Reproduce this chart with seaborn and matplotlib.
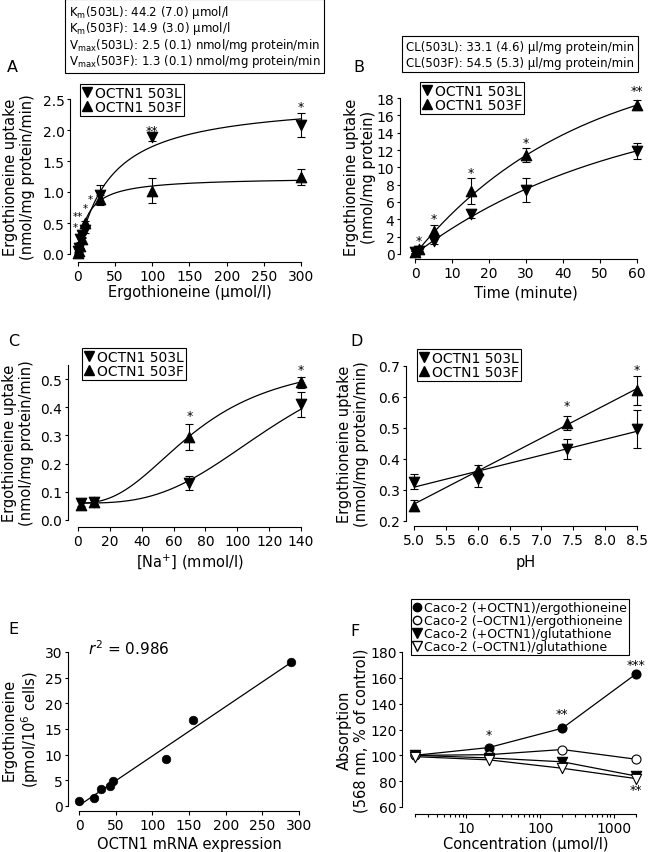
import numpy as np
import matplotlib
matplotlib.use("Agg")
import matplotlib.pyplot as plt
from matplotlib.lines import Line2D
import seaborn as sns

# ---------------- data ----------------
# Panel A: concentration dependence
a_conc = [0, 1, 2.5, 5, 10, 30, 100, 300]
a_503L = [0.05, 0.10, 0.25, 0.30, 0.38, 0.95, 1.88, 2.08]
a_503L_err = [0.03, 0.03, 0.05, 0.04, 0.04, 0.16, 0.05, 0.20]
a_503F = [0.02, 0.05, 0.13, 0.24, 0.50, 0.88, 1.02, 1.24]
a_503F_err = [0.02, 0.02, 0.03, 0.04, 0.04, 0.07, 0.20, 0.13]
a_km = [44.2, 13.0]      # fitted curves (503L, 503F)
a_vmax = [2.5, 1.24]
a_star_x = [300, 100]
a_star_y = [2.38, 2.0]
a_star_t = ["*", "**"]
a_lowstar_x = [-4, 0.5, 10, 17]
a_lowstar_y = [0.43, 0.61, 0.74, 0.88]
a_lowstar_t = ["*", "**", "*", "*"]

# Panel B: time course
b_time = [0, 1, 5, 15, 30, 60]
b_503L = [0.2, 0.4, 1.5, 4.6, 7.4, 11.9]
b_503L_err = [0.1, 0.15, 0.3, 0.5, 1.4, 0.9]
b_503F = [0.2, 0.6, 2.6, 7.3, 11.4, 17.2]
b_503F_err = [0.1, 0.3, 0.8, 1.5, 0.8, 0.6]
b_fit_a = [18.16, 23.2]   # saturation fits (503L, 503F)
b_fit_k = [0.01776, 0.0225]
b_star_x = [1, 5, 15, 30, 60]
b_star_y = [1.5, 4.05, 9.46, 12.9, 18.9]
b_star_t = ["*", "*", "*", "*", "**"]

# Panel C: Na+ dependence
c_na = [2, 10, 70, 140]
c_503L = [0.060, 0.063, 0.132, 0.41]
c_503L_err = [0.012, 0.008, 0.025, 0.045]
c_503F = [0.055, 0.065, 0.295, 0.488]
c_503F_err = [0.012, 0.008, 0.047, 0.02]
c_base = [0.06, 0.06]     # Hill fits (503L, 503F)
c_vmax = [0.6, 0.52]
c_k = [130, 75]
c_n = [3.0, 2.5]
c_star_x = [70, 140]
c_star_y = [0.37, 0.535]

# Panel D: pH dependence
d_ph = [5.0, 6.0, 7.4, 8.5]
d_503L = [0.327, 0.336, 0.432, 0.497]
d_503L_err = [0.025, 0.025, 0.032, 0.062]
d_503F = [0.25, 0.365, 0.516, 0.622]
d_503F_err = [0.017, 0.017, 0.022, 0.047]
d_star_x = [7.4, 8.5]
d_star_y = [0.571, 0.689]

# Panel E: correlation
e_mrna = [0, 21, 30, 42, 47, 119, 155, 289]
e_ergo = [1.0, 1.5, 3.3, 3.9, 4.9, 9.1, 16.8, 28.0]

# Panel F: cytoprotection
f_conc = [2, 20, 200, 2000]
f_pos_ergo = [100, 106, 121, 163]
f_neg_ergo = [100, 100.5, 104.5, 97]
f_pos_glut = [100, 98, 95, 84]
f_neg_glut = [99, 96.5, 90, 82]
f_pos_ergo_err = [1.0, 1.5, 2.5, 1.5]
f_star_x = [20, 200, 2000, 2000]
f_star_y = [116, 132, 170, 73.5]
f_star_t = ["*", "**", "***", "**"]

# ---------------- style ----------------
sns.set_style("ticks")
plt.rcParams.update({
    "font.family": ["DejaVu Sans"],
    "font.size": 10,
    "axes.linewidth": 0.8,
    "axes.edgecolor": "black",
    "xtick.major.width": 0.8, "ytick.major.width": 0.8,
    "xtick.minor.width": 0.8,
    "xtick.major.size": 2.8, "ytick.major.size": 2.5,
    "xtick.minor.size": 2.2,
    "xtick.major.pad": 2.0, "ytick.major.pad": 1.5,
    "xtick.color": "black", "ytick.color": "black",
    "xtick.labelsize": 10, "ytick.labelsize": 10,
    "axes.labelsize": 10.5,
    "text.color": "black", "axes.labelcolor": "black",
    "mathtext.fontset": "dejavusans",
})

W, H = 648, 853
fig = plt.figure(figsize=(W / 100, H / 100), dpi=100)


def px_axes(x0, x1, ytop, ybot):
    return fig.add_axes([x0 / W, 1 - ybot / H, (x1 - x0) / W, (ybot - ytop) / H])


def style(ax, left_off, bottom_off):
    sns.despine(ax=ax)
    ax.spines["left"].set_position(("outward", left_off * 0.72))
    ax.spines["bottom"].set_position(("outward", bottom_off * 0.72))
    ax.tick_params(direction="out")


def points(ax, x, y, err, marker, filled=True, ms=8):
    ax.errorbar(x, y, yerr=err, fmt="none", ecolor="black", elinewidth=0.8,
                capsize=3, capthick=0.8, zorder=2, clip_on=False)
    sns.scatterplot(x=x, y=y, marker=marker, s=ms ** 2 * 0.9,
                    color="black" if filled else "white", edgecolor="black",
                    linewidth=0.8, ax=ax, zorder=3, clip_on=False, legend=False)


def stars(ax, xs, ys, ts, size=9):
    for x, y, t in zip(xs, ys, ts):
        ax.text(x, y, t, ha="center", va="center", fontsize=size, clip_on=False)


def legend_tri(ax, xpx, ypx):
    handles = [Line2D([0], [0], marker="v", ls="none", color="black", ms=7.5, label="OCTN1 503L"),
               Line2D([0], [0], marker="^", ls="none", color="black", ms=7.5, label="OCTN1 503F")]
    leg = ax.legend(handles=handles, loc="upper left", bbox_to_anchor=(xpx / W, 1 - ypx / H),
                    bbox_transform=fig.transFigure, borderaxespad=0, fontsize=10,
                    frameon=True, fancybox=False, edgecolor="black", framealpha=1,
                    handlelength=0.7, handletextpad=0.25, borderpad=0.15, labelspacing=0.0)
    leg.get_frame().set_linewidth(0.8)
    return leg


def ylabel(ax, text, right_px, ax_left_px, ax_width_px):
    ax.set_ylabel(text, linespacing=1.15)
    ax.yaxis.set_label_coords((right_px - ax_left_px) / ax_width_px, 0.5)


def xlabel(ax, text, center_px, ax_bottom_px, ax_height_px):
    ax.set_xlabel(text)
    ax.xaxis.set_label_coords(0.5, -(center_px - ax_bottom_px) / ax_height_px)
    ax.xaxis.label.set_va("center")


# ---------------- Panel A ----------------
axA = px_axes(78, 301, 100, 255)
xs = np.linspace(0, 300, 400)
for km, vm in zip(a_km, a_vmax):
    sns.lineplot(x=xs, y=vm * xs / (km + xs), color="black", lw=0.9, ax=axA, zorder=1)
points(axA, a_conc, a_503L, a_503L_err, "v")
points(axA, a_conc, a_503F, a_503F_err, "^")
axA.set_xlim(0, 300)
axA.set_ylim(0, 2.5)
axA.set_xticks(range(0, 301, 50))
axA.set_yticks(np.arange(0, 2.51, 0.5))
axA.set_yticklabels([f"{v:.1f}" for v in np.arange(0, 2.51, 0.5)])
style(axA, 8, 8)
stars(axA, a_star_x, a_star_y, a_star_t)
stars(axA, a_lowstar_x, a_lowstar_y, a_lowstar_t, size=7.5)
ylabel(axA, "Ergothioneine uptake\n(nmol/mg protein/min)", 35, 78, 223)
xlabel(axA, "Ergothioneine (µmol/l)", 293, 255, 155)
legend_tri(axA, 80, 85)

# ---------------- Panel B ----------------
axB = px_axes(415, 637, 99, 255)
ts = np.linspace(0, 60, 300)
for a, k in zip(b_fit_a, b_fit_k):
    sns.lineplot(x=ts, y=a * (1 - np.exp(-k * ts)), color="black", lw=0.9, ax=axB, zorder=1)
points(axB, b_time, b_503L, b_503L_err, "v")
points(axB, b_time, b_503F, b_503F_err, "^")
axB.set_xlim(0, 60)
axB.set_ylim(0, 18)
axB.set_xticks(range(0, 61, 10))
axB.set_yticks(range(0, 19, 2))
style(axB, 15, 5)
stars(axB, b_star_x, b_star_y, b_star_t)
ylabel(axB, "Ergothioneine uptake\n(nmol/mg protein)", 376, 415, 222)
xlabel(axB, "Time (minute)", 293, 255, 156)
legend_tri(axB, 420, 83)

# ---------------- Panel C ----------------
axC = px_axes(78, 301, 366, 521)
ns = np.linspace(2, 140, 300)
for b0, vm, k, n in zip(c_base, c_vmax, c_k, c_n):
    sns.lineplot(x=ns, y=b0 + vm * ns ** n / (k ** n + ns ** n), color="black", lw=0.9, ax=axC, zorder=1)
points(axC, c_na, c_503L, c_503L_err, "v")
points(axC, c_na, c_503F, c_503F_err, "^")
axC.set_xlim(0, 140)
axC.set_ylim(0, 0.55)
axC.set_xticks(range(0, 141, 20))
axC.set_yticks(np.arange(0, 0.51, 0.1))
axC.set_yticklabels([f"{v:.1f}" for v in np.arange(0, 0.51, 0.1)])
style(axC, 10, 7)
stars(axC, c_star_x, c_star_y, ["*", "*"])
ylabel(axC, "Ergothioneine uptake\n(nmol/mg protein/min)", 34, 78, 223)
xlabel(axC, "[Na$^{+}$] (mmol/l)", 562, 521, 155)
legend_tri(axC, 82, 349)

# ---------------- Panel D ----------------
axD = px_axes(414, 637, 367, 522)
phs = np.array([5.0, 8.5])
for yv in (d_503L, d_503F):
    sl, ic = np.polyfit(d_ph, yv, 1)
    sns.lineplot(x=phs, y=sl * phs + ic, color="black", lw=0.9, ax=axD, zorder=1)
points(axD, d_ph, d_503L, d_503L_err, "v")
points(axD, d_ph, d_503F, d_503F_err, "^")
axD.set_xlim(5.0, 8.5)
axD.set_ylim(0.2, 0.7)
axD.set_xticks(np.arange(5.0, 8.51, 0.5))
axD.set_xticklabels([f"{v:.1f}" for v in np.arange(5.0, 8.51, 0.5)])
axD.set_yticks(np.arange(0.2, 0.71, 0.1))
axD.set_yticklabels([f"{v:.1f}" for v in np.arange(0.2, 0.71, 0.1)])
style(axD, 8, 5)
stars(axD, d_star_x, d_star_y, ["*", "*"])
ylabel(axD, "Ergothioneine uptake\n(nmol/mg protein/min)", 369, 414, 223)
xlabel(axD, "pH", 563, 522, 155)
legend_tri(axD, 417, 350)

# ---------------- Panel E ----------------
axE = px_axes(79, 299, 653, 807)
sl, ic = np.polyfit(e_mrna, e_ergo, 1)
ex = np.array([min(e_mrna), max(e_mrna)])
sns.lineplot(x=ex, y=sl * ex + ic, color="black", lw=0.9, ax=axE, zorder=1)
sns.scatterplot(x=e_mrna, y=e_ergo, marker="o", s=38, color="black", edgecolor="black",
                ax=axE, zorder=3, clip_on=False, legend=False)
axE.set_xlim(0, 300)
axE.set_ylim(0, 30)
axE.set_xticks(range(0, 301, 50))
axE.set_yticks(range(0, 31, 5))
style(axE, 11, 5)
axE.text(12, 30.8, "$r^2$ = 0.986", ha="left", va="center", fontsize=11, clip_on=False)
ylabel(axE, "Ergothioneine\n(pmol/10$^6$ cells)", 41, 79, 220)
xlabel(axE, "OCTN1 mRNA expression", 845, 807, 154)

# ---------------- Panel F ----------------
axF = px_axes(415, 636, 653, 808)
series_F = [(f_pos_ergo, "o", True), (f_neg_ergo, "o", False),
            (f_pos_glut, "v", True), (f_neg_glut, "v", False)]
for yv, mk, filled in series_F:
    sns.lineplot(x=f_conc, y=yv, color="black", lw=0.9, ax=axF, zorder=1)
axF.errorbar(f_conc, f_pos_ergo, yerr=f_pos_ergo_err, fmt="none", ecolor="black",
             elinewidth=0.8, capsize=2.5, capthick=0.8, zorder=2, clip_on=False)
for yv, mk, filled in series_F:
    sns.scatterplot(x=f_conc, y=yv, marker=mk, s=42 if mk == "o" else 55,
                    color="black" if filled else "white", edgecolor="black", linewidth=0.8,
                    ax=axF, zorder=3, clip_on=False, legend=False)
axF.set_xscale("log")
axF.set_xlim(2, 2000)
axF.set_ylim(60, 180)
axF.set_xticks([10, 100, 1000])
axF.set_xticklabels(["10", "100", "1000"])
axF.set_yticks(range(60, 181, 20))
style(axF, 13, 7)
stars(axF, f_star_x, f_star_y, f_star_t)
ylabel(axF, "Absorption\n(568 nm, % of control)", 369, 415, 221)
xlabel(axF, "Concentration (µmol/l)", 845, 808, 155)
hF = [Line2D([0], [0], marker="o", ls="none", mfc="black", mec="black", ms=6,
             label="Caco-2 (+OCTN1)/ergothioneine"),
      Line2D([0], [0], marker="o", ls="none", mfc="white", mec="black", ms=6,
             label="Caco-2 (\u2013OCTN1)/ergothioneine"),
      Line2D([0], [0], marker="v", ls="none", mfc="black", mec="black", ms=6.5,
             label="Caco-2 (+OCTN1)/glutathione"),
      Line2D([0], [0], marker="v", ls="none", mfc="white", mec="black", ms=6.5,
             label="Caco-2 (\u2013OCTN1)/glutathione")]
legF = axF.legend(handles=hF, loc="upper left", bbox_to_anchor=(411 / W, 1 - 600 / H),
                  bbox_transform=fig.transFigure, borderaxespad=0, fontsize=9,
                  frameon=True, fancybox=False, edgecolor="black", framealpha=1,
                  handlelength=0.6, handletextpad=0.3, borderpad=0.15, labelspacing=0.0)
legF.get_frame().set_linewidth(0.8)

# ---------------- text boxes & panel letters ----------------
boxA = ("K$_{\\rm m}$(503L): 44.2 (7.0) µmol/l\n"
        "K$_{\\rm m}$(503F): 14.9 (3.0) µmol/l\n"
        "V$_{\\rm max}$(503L): 2.5 (0.1) nmol/mg protein/min\n"
        "V$_{\\rm max}$(503F): 1.3 (0.1) nmol/mg protein/min")
fig.text(69 / W, 1 - 4 / H, boxA, ha="left", va="top", fontsize=8.5, linespacing=0.95,
         bbox=dict(boxstyle="square,pad=0.3", fc="white", ec="black", lw=0.8))
boxB = ("CL(503L): 33.1 (4.6) µl/mg protein/min\n"
        "CL(503F): 54.5 (5.3) µl/mg protein/min")
fig.text(406 / W, 1 - 41 / H, boxB, ha="left", va="top", fontsize=8.5, linespacing=1.25,
         bbox=dict(boxstyle="square,pad=0.3", fc="white", ec="black", lw=0.8))

for lab, xp, yp in [("A", 7, 68), ("B", 353, 68), ("C", 8, 342),
                    ("D", 350, 342), ("E", 8, 630), ("F", 350, 632)]:
    fig.text(xp / W, 1 - yp / H, lab, ha="left", va="center", fontsize=11.5)

fig.savefig("out.png", dpi=100)
